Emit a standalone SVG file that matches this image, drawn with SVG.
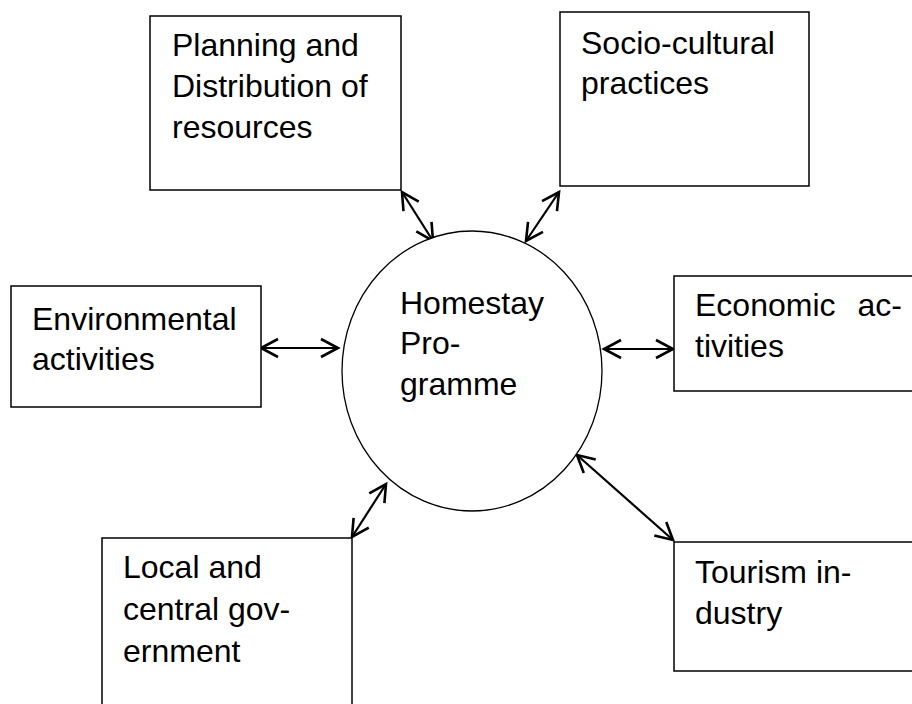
<svg xmlns="http://www.w3.org/2000/svg" width="912" height="704" viewBox="0 0 912 704">
<style>
.box{fill:#fff;stroke:#000;stroke-width:1.5}
.ell{fill:#fff;stroke:#000;stroke-width:1.3}
.t{font-family:"Liberation Sans",Arial,sans-serif;font-size:32px;fill:#000}
.c{stroke:#000;stroke-width:2.2;fill:none;marker-start:url(#ah);marker-end:url(#ah)}
</style>
<defs>
<marker id="ah" viewBox="0 0 22 22" refX="19" refY="11" markerWidth="22" markerHeight="22" markerUnits="userSpaceOnUse" orient="auto-start-reverse">
<path d="M2,2 L19,11 L2,20" fill="none" stroke="#000" stroke-width="2.6"/>
</marker>
</defs>
<rect width="912" height="704" fill="#fff"/>
<g id="connectors">
<line class="c" x1="402" y1="192" x2="433" y2="241"/>
<line class="c" x1="559" y1="192" x2="526" y2="241"/>
<line class="c" x1="261" y1="348" x2="338" y2="348"/>
<line class="c" x1="604" y1="349" x2="673" y2="349"/>
<line class="c" x1="352" y1="537" x2="386" y2="484"/>
<line class="c" x1="577" y1="455" x2="673" y2="540"/>
</g>
<g id="node-planning">
<rect class="box" x="150" y="16" width="251" height="174"/>
<text class="t"><tspan x="172" y="56">Planning and</tspan><tspan x="172" y="97">Distribution of</tspan><tspan x="172" y="138">resources</tspan></text>
</g>
<g id="node-socio">
<rect class="box" x="560" y="12" width="249" height="174"/>
<text class="t"><tspan x="581" y="54">Socio-cultural</tspan><tspan x="581" y="94">practices</tspan></text>
</g>
<g id="node-environmental">
<rect class="box" x="11" y="286" width="250" height="121"/>
<text class="t"><tspan x="32" y="330">Environmental</tspan><tspan x="32" y="370">activities</tspan></text>
</g>
<g id="node-homestay">
<ellipse class="ell" cx="472" cy="371" rx="130" ry="140"/>
<text class="t"><tspan x="400" y="314">Homestay</tspan><tspan x="400" y="354">Pro-</tspan><tspan x="400" y="395">gramme</tspan></text>
</g>
<g id="node-economic">
<rect class="box" x="674" y="276" width="250" height="115"/>
<text class="t"><tspan x="695" y="316">Economic</tspan><tspan x="902" y="316" text-anchor="end">ac-</tspan><tspan x="695" y="357">tivities</tspan></text>
</g>
<g id="node-local">
<rect class="box" x="102" y="538" width="250" height="180"/>
<text class="t"><tspan x="123" y="578">Local and</tspan><tspan x="123" y="620">central gov-</tspan><tspan x="123" y="662">ernment</tspan></text>
</g>
<g id="node-tourism">
<rect class="box" x="674" y="542" width="250" height="129"/>
<text class="t"><tspan x="695" y="583">Tourism in-</tspan><tspan x="695" y="624">dustry</tspan></text>
</g>
</svg>
